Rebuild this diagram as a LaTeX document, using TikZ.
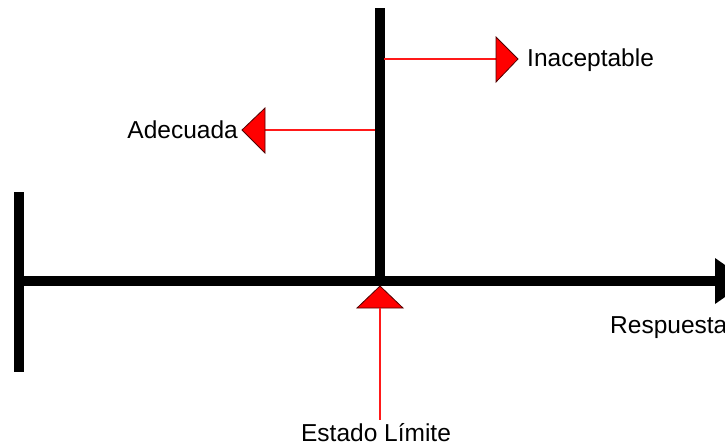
\documentclass[tikz,border=0pt]{standalone}
\usepackage{fontspec}
\setmainfont{Liberation Sans}
\begin{document}
\begin{tikzpicture}[x=1pt,y=-1pt,
  axis/.style={line width=10pt,black},
  redline/.style={line width=1.4pt,red!90!white},
  redtri/.style={fill=red,draw={rgb,255:red,80;green,0;blue,0},line width=0.8pt,line join=miter},
  lbl/.style={font=\fontsize{24.5}{28}\selectfont,inner sep=0pt,text=black}]
\useasboundingbox (0,0) rectangle (725,445);
\clip (0,0) rectangle (725,445);
% coordinates
\coordinate (L0) at (14,281);
\coordinate (Lend) at (716,281);
\coordinate (tip) at (748,281);
\coordinate (Btop) at (18.5,192);
\coordinate (Bbot) at (18.5,372);
\coordinate (Vtop) at (379.5,8);
\coordinate (Vbot) at (379.5,286);
% axes
\draw[axis] (L0) -- (Lend);
\fill[black] (715,258) -- (tip) -- (715,304) -- cycle;
\draw[axis] (Btop) -- (Bbot);
\draw[axis] (Vtop) -- (Vbot);
% Inaceptable
\coordinate (i0) at (384,59);
\coordinate (i1) at (496,59);
\draw[redline] (i0) -- (i1);
\draw[redtri] (496,37) -- (518,59) -- (496,82) -- cycle;
\node[lbl,anchor=base west] (inac) at (527,66) {Inaceptable};
% Adecuada
\coordinate (a0) at (375,130);
\coordinate (a1) at (265,130);
\draw[redline] (a0) -- (a1);
\draw[redtri] (265,108) -- (242,130) -- (265,153) -- cycle;
\node[lbl,anchor=base east] (adec) at (238,138) {Adecuada};
% Estado Limite
\draw[redtri] (380,286) -- (403,308) -- (357,308) -- cycle;
\coordinate (e0) at (380,308);
\coordinate (e1) at (380,420);
\draw[redline] (e0) -- (e1);
\node[lbl,anchor=base] (est) at (376,441) {Estado Límite};
% Respuesta
\node[lbl,anchor=base west] (resp) at (610,333) {Respuesta};
\end{tikzpicture}
\end{document}
